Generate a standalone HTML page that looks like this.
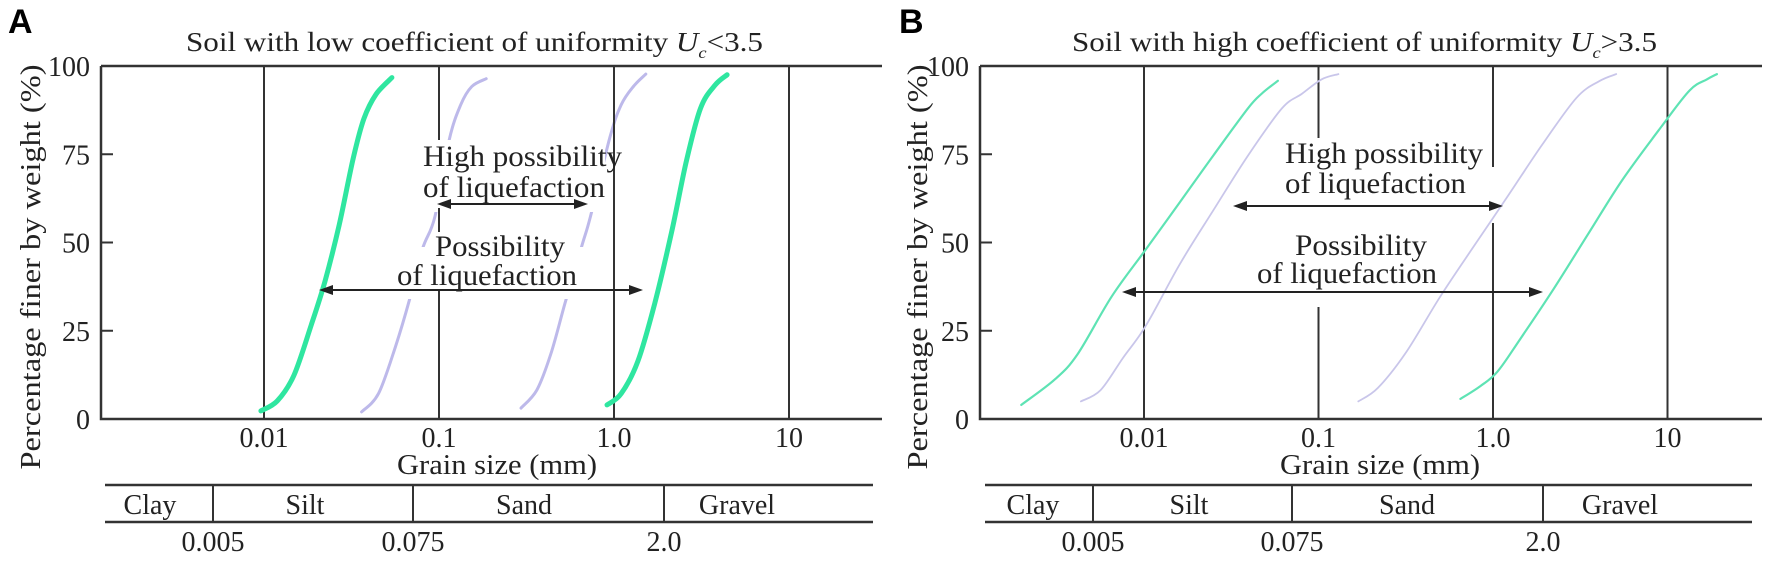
<!DOCTYPE html>
<html><head><meta charset="utf-8"><style>
html,body{margin:0;padding:0;background:#fff;}
svg{display:block;}
text{font-family:"Liberation Serif",serif;fill:#222;}
</style></head><body>
<svg id="fig" width="1772" height="564" viewBox="0 0 1772 564" xmlns="http://www.w3.org/2000/svg">
<rect width="1772" height="564" fill="#fff"/>
<g id="gA"></g>
<g id="gB"></g>
</svg>
<script>
// ---- data (grain size in mm, percent finer) ----
const yTicks = [0, 25, 50, 75, 100];
const xTickValues = [0.01, 0.1, 1, 10];
const xTickLabels = ["0.01", "0.1", "1.0", "10"];
const soilClasses = ["Clay", "Silt", "Sand", "Gravel"];
const classBounds = ["0.005", "0.075", "2.0"];

const aGreen1D = [0.0096,0.0119,0.0148,0.0186,0.0223,0.0269,0.0323,0.0372,0.0437,0.0538];
const aGreen1P = [2.3,5.1,12.3,26.6,39,55,73.7,85,92,96.7];
const aGreen2D = [0.912,1.10,1.37,1.71,2.14,2.58,3.12,3.78,4.43];
const aGreen2P = [4,7.2,16.4,32.8,53.2,72.6,88,94.6,97.5];
const aPurple1D = [0.0361,0.0451,0.0564,0.0678,0.0805,0.0948,0.114,0.133,0.154,0.186];
const aPurple1P = [2,7.2,20.5,33.8,48.2,57.3,78.8,89,94.2,96.4];
const aPurple2D = [0.294,0.362,0.436,0.525,0.656,0.733,0.948,1.10,1.29,1.52];
const aPurple2P = [3.1,8.2,18.5,32.8,49.2,57.3,79.8,89,94.2,97.7];

const bGreen1D = [0.00198,0.0031,0.00418,0.00655,0.0103,0.0161,0.0251,0.0394,0.0474,0.0585];
const bGreen1P = [4,11.3,18.5,34.8,48.2,61.5,74.8,88,92.2,95.8];
const bPurple1D = [0.00435,0.00564,0.0076,0.0103,0.0161,0.0251,0.0394,0.0617,0.0802,0.104,0.130];
const bPurple1P = [5,8.2,17.4,26.6,44,59.3,74.6,88,92.1,96.2,97.7];
const bPurple2D = [0.169,0.219,0.319,0.5,0.783,1.23,1.92,3.01,4.06,5.08];
const bPurple2P = [5,8.8,19,34.8,49.2,63.5,77.8,91,95.7,97.7];
const bGreen2D = [0.65,0.845,1.06,1.43,2.23,3.49,5.47,9.25,13.4,16.8,19.2];
const bGreen2P = [5.7,9.3,13.4,22.6,36.9,52.2,67.5,82.9,93.1,96.2,97.7];

const NS = "http://www.w3.org/2000/svg";
function mk(parent, tag, attrs, txt){
  const e = document.createElementNS(NS, tag);
  for (const k in attrs) e.setAttribute(k, attrs[k]);
  if (txt !== undefined) e.textContent = txt;
  parent.appendChild(e);
  return e;
}
function smoothPath(pts){
  let d = "M" + pts[0][0].toFixed(1) + "," + pts[0][1].toFixed(1);
  for (let i = 0; i < pts.length - 1; i++){
    const p0 = pts[Math.max(0,i-1)], p1 = pts[i], p2 = pts[i+1], p3 = pts[Math.min(pts.length-1,i+2)];
    const c1x = p1[0] + (p2[0]-p0[0])/6, c1y = p1[1] + (p2[1]-p0[1])/6;
    const c2x = p2[0] - (p3[0]-p1[0])/6, c2y = p2[1] - (p3[1]-p1[1])/6;
    d += " C" + c1x.toFixed(1) + "," + c1y.toFixed(1) + " " + c2x.toFixed(1) + "," + c2y.toFixed(1) + " " + p2[0].toFixed(1) + "," + p2[1].toFixed(1);
  }
  return d;
}
function arrowHead(g, x, y, dir){
  const p = mk(g, "path", {d: "M" + x + "," + y + " L" + (x - dir*14) + "," + (y-5) + " L" + (x - dir*14) + "," + (y+5) + " Z", fill: "#222"});
  
  
}

function panel(g, o){
  const X = d => o.x0 + (Math.log10(d) + 2) * o.dec;
  const Y = p => 419 - p * 3.53;
  const axisColor = "#333";

  const L = mk(g, "text", {x: o.letterX, y: 33, style: "font-family:'Liberation Sans',sans-serif;font-weight:bold;font-size:34px;fill:#000"}, o.letter);
  
  

  const t = mk(g, "text", {x: o.titleX, y: 51, style: "font-size:27px", textLength: o.titleW, lengthAdjust: "spacingAndGlyphs"});
  
  
  mk(t, "tspan", {}, o.titleText);
  mk(t, "tspan", {"font-style": "italic"}, "U");
  mk(t, "tspan", {dy: 7, style: "font-size:16px", "font-style": "italic"}, "c");
  mk(t, "tspan", {dy: -7}, o.titleOp + "3.5");

  const yl = mk(g, "text", {x: 0, y: 0, transform: "translate(" + (o.ylX + 10) + ",267) rotate(-90)", "text-anchor": "middle", style: "font-size:29px", textLength: 405, lengthAdjust: "spacingAndGlyphs"}, "Percentage finer by weight (%)");
  
  

  const curves = [];
  o.purple.forEach(s => curves.push({s, col: o.purpleCol, w: o.purpleW, name: "purple-curve"}));
  const drawCurve = c => {
    const pts = c.s[0].map((d, i) => [X(d), Y(c.s[1][i])]);
    const p = mk(g, "path", {d: smoothPath(pts), fill: "none", stroke: c.col, "stroke-width": c.w, "stroke-linecap": "round"});
    
    
  };
  if (o.maskPurple) curves.forEach(drawCurve);

  o.masks.forEach(m => {
    const r = mk(g, "rect", {x: m[0], y: m[1], width: m[2], height: m[3], fill: "#fff"});
    
    
  });

  xTickValues.forEach((v, i) => {
    o.gridSegs[i].forEach(sg => {
      const ln = mk(g, "line", {x1: X(v), x2: X(v), y1: sg[0], y2: sg[1], stroke: axisColor, "stroke-width": 2});
      
      
    });
    const tl = mk(g, "text", {x: X(v), y: 447, "text-anchor": "middle", style: "font-size:28px"}, xTickLabels[i]);
    
    
  });

  if (!o.maskPurple) curves.forEach(drawCurve);
  o.green.forEach(s => drawCurve({s, col: o.greenCol, w: o.greenW, name: "green-curve"}));

  const ax = mk(g, "path", {d: "M" + o.ax + ",66 H" + o.axR + " M" + o.ax + ",66 V419 H" + o.axR, fill: "none", stroke: axisColor, "stroke-width": 2.5});
  
  
  yTicks.forEach(v => {
    if (v > 0 && v < 100){
      const tk = mk(g, "line", {x1: o.ax, x2: o.ax + 12, y1: Y(v), y2: Y(v), stroke: axisColor, "stroke-width": 2});
      
      
    }
    const lb = mk(g, "text", {x: o.ax - 11, y: Y(v) + 10, "text-anchor": "end", style: "font-size:28px"}, String(v));
    
    
  });

  o.texts.forEach(tx => {
    const e = mk(g, "text", {x: tx[1], y: tx[2], style: "font-size:30px", textLength: tx[3], lengthAdjust: "spacingAndGlyphs"}, tx[0]);
    
    
  });
  o.arrows.forEach(a => {
    const ln = mk(g, "line", {x1: a[0] + 6, x2: a[1] - 6, y1: a[2], y2: a[2], stroke: "#222", "stroke-width": 2});
    
    
    arrowHead(g, a[0], a[2], -1);
    arrowHead(g, a[1], a[2], 1);
  });

  const xt = mk(g, "text", {x: o.xtX, y: 474, "text-anchor": "middle", style: "font-size:29px", textLength: 200, lengthAdjust: "spacingAndGlyphs"}, "Grain size (mm)");
  
  

  const tb = mk(g, "path", {d: "M" + o.tb[0] + ",485 H" + o.tb[1] + " M" + o.tb[0] + ",522 H" + o.tb[1], stroke: axisColor, "stroke-width": 2.5, fill: "none"});
  
  
  o.div.forEach((x, i) => {
    const d = mk(g, "line", {x1: x, x2: x, y1: 485, y2: 522, stroke: axisColor, "stroke-width": 2});
    
    
    const b = mk(g, "text", {x: x, y: 551, "text-anchor": "middle", style: "font-size:28px"}, classBounds[i]);
    
    
  });
  soilClasses.forEach((c, i) => {
    const e = mk(g, "text", {x: o.cls[i], y: 514, "text-anchor": "middle", style: "font-size:28px"}, c);
    
    
  });
}

panel(document.getElementById("gA"), {
  letter: "A", letterX: 8, x0: 264, dec: 175, ax: 101, axR: 882, ylX: 30,
  titleX: 186, titleW: 577, titleText: "Soil with low coefficient of uniformity ", titleOp: "<",
  green: [[aGreen1D, aGreen1P], [aGreen2D, aGreen2P]],
  purple: [[aPurple1D, aPurple1P], [aPurple2D, aPurple2P]],
  greenCol: "#2fe6a0", greenW: 5, purpleCol: "#bdb9ea", purpleW: 3, maskPurple: true,
  masks: [[400, 140, 205, 72], [400, 247, 205, 52]],
  gridSegs: [[[66, 419]], [[66, 140], [208, 232], [290, 419]], [[66, 419]], [[66, 419]]],
  texts: [["High possibility", 423, 166, 199], ["of liquefaction", 423, 197, 182], ["Possibility", 435, 256, 130], ["of liquefaction", 397, 285, 180]],
  arrows: [[437, 588, 204], [319, 643, 290]],
  xtX: 497, tb: [105, 873], div: [213, 413, 664], cls: [150, 305, 524, 737]
});
panel(document.getElementById("gB"), {
  letter: "B", letterX: 899, x0: 1144, dec: 174.5, ax: 980, axR: 1762, ylX: 917,
  titleX: 1072, titleW: 585, titleText: "Soil with high coefficient of uniformity ", titleOp: ">",
  green: [[bGreen1D, bGreen1P], [bGreen2D, bGreen2P]],
  purple: [[bPurple1D, bPurple1P], [bPurple2D, bPurple2P]],
  greenCol: "#5ee3b4", greenW: 2.2, purpleCol: "#c9c6ea", purpleW: 1.8, maskPurple: false,
  masks: [],
  gridSegs: [[[66, 419]], [[66, 138], [307, 419]], [[66, 167], [223, 419]], [[66, 419]]],
  texts: [["High possibility", 1285, 163, 198], ["of liquefaction", 1285, 193, 181], ["Possibility", 1295, 255, 132], ["of liquefaction", 1257, 283, 180]],
  arrows: [[1233, 1503, 206], [1122, 1543, 292]],
  xtX: 1380, tb: [985, 1752], div: [1093, 1292, 1543], cls: [1033, 1189, 1407, 1620]
});
</script>
</body></html>
